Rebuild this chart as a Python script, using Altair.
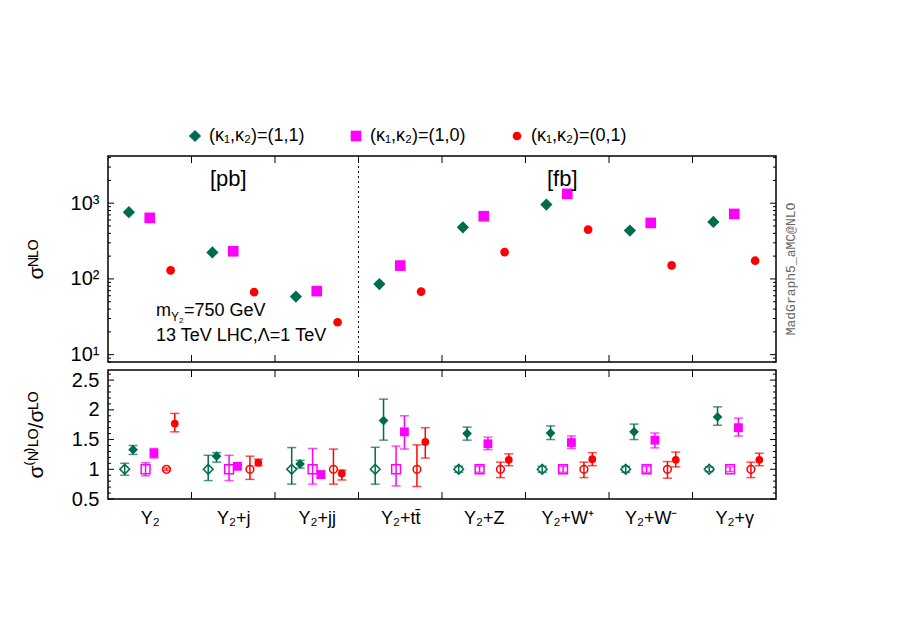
import json
import altair as alt
import pandas as pd

# ---------------- data ----------------
categories = ["Y₂", "Y₂+j", "Y₂+jj", "Y₂+tt̄", "Y₂+Z", "Y₂+W⁺", "Y₂+W⁻", "Y₂+γ"]
units = ["pb", "pb", "pb", "fb", "fb", "fb", "fb", "fb"]
series = ["(κ₁,κ₂)=(1,1)", "(κ₁,κ₂)=(1,0)", "(κ₁,κ₂)=(0,1)"]

# sigma NLO (pb for Y2, Y2+j, Y2+jj ; fb for the rest)
nlo_11 = [760, 224, 58.6, 85.5, 481, 961, 435, 566]
nlo_10 = [640, 232, 69, 150, 673, 1328, 549, 722]
nlo_01 = [130, 67, 26.8, 68, 226, 448, 151, 174]

# NLO / LO ratios with scale-uncertainty ends
k_11 = [1.33, 1.22, 1.09, 1.82, 1.60, 1.61, 1.63, 1.88]
k_11_hi = [1.40, 1.28, 1.15, 2.18, 1.71, 1.73, 1.76, 2.05]
k_11_lo = [1.25, 1.12, 1.02, 1.49, 1.49, 1.50, 1.50, 1.74]
k_10 = [1.27, 1.05, 0.91, 1.63, 1.43, 1.45, 1.49, 1.70]
k_10_hi = [1.35, 1.08, 0.97, 1.90, 1.54, 1.56, 1.61, 1.86]
k_10_lo = [1.19, 1.02, 0.85, 1.34, 1.33, 1.35, 1.36, 1.56]
k_01 = [1.77, 1.11, 0.93, 1.46, 1.16, 1.17, 1.16, 1.16]
k_01_hi = [1.94, 1.17, 0.985, 1.70, 1.26, 1.28, 1.29, 1.27]
k_01_lo = [1.63, 1.06, 0.82, 1.19, 1.06, 1.06, 1.04, 1.06]

# LO / LO (=1) with scale-uncertainty ends
lo_11_hi = [1.10, 1.235, 1.365, 1.37, 1.05, 1.05, 1.05, 1.04]
lo_11_lo = [0.90, 0.81, 0.75, 0.75, 0.95, 0.95, 0.95, 0.96]
lo_10_hi = [1.11, 1.235, 1.35, 1.39, 1.05, 1.05, 1.05, 1.04]
lo_10_lo = [0.89, 0.81, 0.75, 0.72, 0.95, 0.95, 0.95, 0.96]
lo_01_hi = [1.02, 1.22, 1.34, 1.41, 1.12, 1.12, 1.13, 1.12]
lo_01_lo = [0.98, 0.83, 0.75, 0.71, 0.86, 0.86, 0.85, 0.86]

top_major = [10, 100, 1000]
top_minor = [8, 9, 20, 30, 40, 50, 60, 70, 80, 90,
             200, 300, 400, 500, 600, 700, 800, 900, 2000, 3000, 4000]
bot_major = [0.5, 1, 1.5, 2, 2.5]
bot_minor = [0.6, 0.7, 0.8, 0.9, 1.1, 1.2, 1.3, 1.4, 1.6, 1.7, 1.8, 1.9,
             2.1, 2.2, 2.3, 2.4, 2.6]

# ---------------- style ----------------
colors = ["#006b4f", "#ff00ff", "#ff0000"]
shapes = ["diamond", "square", "circle"]
FONT = "Liberation Sans"
W, HT, HB = 668, 206, 129
N = len(categories)
top_off = [0.25, 0.5, 0.75]
lo_off = [0.2, 0.45, 0.7]
nlo_off = [0.3, 0.55, 0.8]

xs_top = alt.Scale(domain=[0, N], nice=False, zero=False)
xs_bot = alt.Scale(domain=[0, N], nice=False, zero=False)
ys_top = alt.Scale(type="log", domain=[8, 4200], nice=False)
ys_bot = alt.Scale(domain=[0.5, 2.67], nice=False, zero=False)

sup = {1: "¹", 2: "²", 3: "³"}
top_label_expr = " : ".join(
    f"datum.value == {10**e} ? '10{sup[e]}'" for e in (1, 2)) + " : '10³'"

yax_top = alt.Axis(values=top_major, labelExpr=top_label_expr, ticks=False,
                   domain=False, grid=False, labelFont=FONT, labelFontSize=20,
                   labelPadding=9, labelColor="black",
                   title="σᴺᴸᴼ", titleFont=FONT, titleFontSize=21,
                   titleFontWeight="normal", titleColor="black",
                   titleX=-62, titleY=HT / 2)
yax_bot = alt.Axis(values=bot_major, format="~g", ticks=False, domain=False,
                   grid=False, labelFont=FONT, labelFontSize=20, labelPadding=9,
                   labelColor="black",
                   title="σ⁽ᴺ⁾ᴸᴼ/σᴸᴼ", titleFont=FONT, titleFontSize=21,
                   titleFontWeight="normal", titleColor="black",
                   titleX=-62, titleY=HB / 2)
xax_bot = alt.Axis(values=[i + 0.5 for i in range(N)],
                   labelExpr=f"{json.dumps(categories, ensure_ascii=False)}[floor(datum.value)]",
                   ticks=False, domain=False, grid=False, labelFont=FONT,
                   labelFontSize=18, labelPadding=10, labelColor="black",
                   labelFlush=False, labelOverlap=False, title=None)

# ---------------- top panel ----------------
rows = []
for s, vals in enumerate([nlo_11, nlo_10, nlo_01]):
    for i, v in enumerate(vals):
        rows.append({"series": series[s], "pos": i + top_off[s], "value": v})
df_top = pd.DataFrame(rows)

legend = alt.Legend(title=None, orient="none", legendX=78, legendY=-29,
                    direction="horizontal", labelFont=FONT, labelFontSize=18,
                    labelColor="black", symbolSize=90, symbolStrokeWidth=0,
                    columnPadding=42, labelOffset=5, padding=0)

pts_top = alt.Chart(df_top).mark_point(filled=True, opacity=1).encode(
    x=alt.X("pos:Q", scale=xs_top, axis=None),
    y=alt.Y("value:Q", scale=ys_top, axis=yax_top),
    color=alt.Color("series:N", scale=alt.Scale(domain=series, range=colors), legend=legend),
    shape=alt.Shape("series:N", scale=alt.Scale(domain=series, range=shapes), legend=legend),
    size=alt.Size("series:N", scale=alt.Scale(domain=series, range=[150, 76, 85]), legend=None),
)

n_pb = units.count("pb")
sep = alt.Chart(pd.DataFrame({"x": [n_pb]})).mark_rule(
    color="black", strokeWidth=1, strokeDash=[2, 3]).encode(
    x=alt.X("x:Q", scale=xs_top, axis=None), y=alt.value(0), y2=alt.value(HT))

unit_df = pd.DataFrame({"x": [n_pb / 2, n_pb + (N - n_pb) / 2], "t": ["[pb]", "[fb]"]})
unit_txt = alt.Chart(unit_df).mark_text(font=FONT, fontSize=22, baseline="middle",
                                        color="black", dx=-5).encode(
    x=alt.X("x:Q", scale=xs_top, axis=None), y=alt.value(23), text="t:N")


def txt(t, x, y, size, **kw):
    return alt.Chart(pd.DataFrame({"t": [t]})).mark_text(
        font=FONT, fontSize=size, align="left", baseline="alphabetic",
        color="black", **kw).encode(x=alt.value(x), y=alt.value(y), text="t:N")


notes = (txt("m", 48, 160, 18) + txt("Y", 63, 165, 12) + txt("2", 71, 167, 8)
         + txt("=750 GeV", 76, 160, 18) + txt("13 TeV LHC,Λ=1 TeV", 48, 185, 18))

mg = alt.Chart(pd.DataFrame({"t": ["MadGraph5_aMC@NLO"]})).mark_text(
    font="Liberation Mono", fontSize=13, angle=270, color="#666666",
    baseline="middle", align="center").encode(
    x=alt.value(W + 15), y=alt.value(113), text="t:N")


def xticks(scale, h, axis=None, L=7):
    d = pd.DataFrame({"t": list(range(1, N))})
    b = alt.Chart(d).mark_rule(color="black", strokeWidth=1)
    return (b.encode(x=alt.X("t:Q", scale=scale, axis=axis), y=alt.value(0), y2=alt.value(L))
            + b.encode(x=alt.X("t:Q", scale=scale, axis=axis), y=alt.value(h - L), y2=alt.value(h)))


def yticks(vals, scale, axis, L):
    d = pd.DataFrame({"t": vals})
    b = alt.Chart(d).mark_rule(color="black", strokeWidth=1)
    return (b.encode(y=alt.Y("t:Q", scale=scale, axis=axis), x=alt.value(0), x2=alt.value(L))
            + b.encode(y=alt.Y("t:Q", scale=scale, axis=axis), x=alt.value(W - L), x2=alt.value(W)))


top = alt.layer(
    sep, xticks(xs_top, HT), yticks(top_major, ys_top, yax_top, 6),
    yticks(top_minor, ys_top, yax_top, 3), pts_top, unit_txt, notes, mg,
).properties(width=W, height=HT)

# ---------------- bottom panel ----------------
rows = []
nlo_sets = [(k_11, k_11_lo, k_11_hi), (k_10, k_10_lo, k_10_hi), (k_01, k_01_lo, k_01_hi)]
lo_sets = [(lo_11_lo, lo_11_hi), (lo_10_lo, lo_10_hi), (lo_01_lo, lo_01_hi)]
for s in range(3):
    for i in range(N):
        rows.append({"sb": series[s], "kind": "LO", "pos": i + lo_off[s], "value": 1.0,
                     "lo": lo_sets[s][0][i], "hi": lo_sets[s][1][i]})
        rows.append({"sb": series[s], "kind": "NLO", "pos": i + nlo_off[s],
                     "value": nlo_sets[s][0][i], "lo": nlo_sets[s][1][i],
                     "hi": nlo_sets[s][2][i]})
df_bot = pd.DataFrame(rows)

cb = alt.Color("sb:N", scale=alt.Scale(domain=series, range=colors), legend=None)
sb = alt.Shape("sb:N", scale=alt.Scale(domain=series, range=shapes), legend=None)
xb = alt.X("pos:Q", scale=xs_bot, axis=xax_bot)

base_b = alt.Chart(df_bot)
err = base_b.mark_rule(strokeWidth=1.5).encode(
    x=xb, y=alt.Y("lo:Q", scale=ys_bot, axis=yax_bot), y2="hi:Q", color=cb)
cap_lo = base_b.mark_tick(orient="horizontal", size=9, thickness=1.5).encode(
    x=xb, y=alt.Y("lo:Q", scale=ys_bot, axis=yax_bot), color=cb)
cap_hi = base_b.mark_tick(orient="horizontal", size=9, thickness=1.5).encode(
    x=xb, y=alt.Y("hi:Q", scale=ys_bot, axis=yax_bot), color=cb)
open_pts = base_b.transform_filter("datum.kind == 'LO'").mark_point(
    filled=False, strokeWidth=1.5, opacity=1, fill="white", fillOpacity=0).encode(
    x=xb, y=alt.Y("value:Q", scale=ys_bot, axis=yax_bot), color=cb, shape=sb,
    size=alt.Size("sb:N", scale=alt.Scale(domain=series, range=[95, 60, 70]), legend=None))
full_pts = base_b.transform_filter("datum.kind == 'NLO'").mark_point(
    filled=True, opacity=1).encode(
    x=xb, y=alt.Y("value:Q", scale=ys_bot, axis=yax_bot), color=cb, shape=sb,
    size=alt.Size("sb:N", scale=alt.Scale(domain=series, range=[125, 72, 85]), legend=None))

bottom = alt.layer(
    xticks(xs_bot, HB, xax_bot), yticks(bot_major, ys_bot, yax_bot, 6),
    yticks(bot_minor, ys_bot, yax_bot, 3), err, cap_lo, cap_hi, open_pts, full_pts,
).properties(width=W, height=HB)

chart = alt.vconcat(top, bottom, spacing=8, bounds="flush").resolve_scale(
    color="independent", shape="independent", size="independent"
).properties(
    padding={"left": 16, "top": 118, "right": 5, "bottom": 5},
    background="white",
).configure_view(stroke="black", strokeWidth=1.5)

chart.save("out.html", embed_options={"renderer": "svg", "actions": False})
